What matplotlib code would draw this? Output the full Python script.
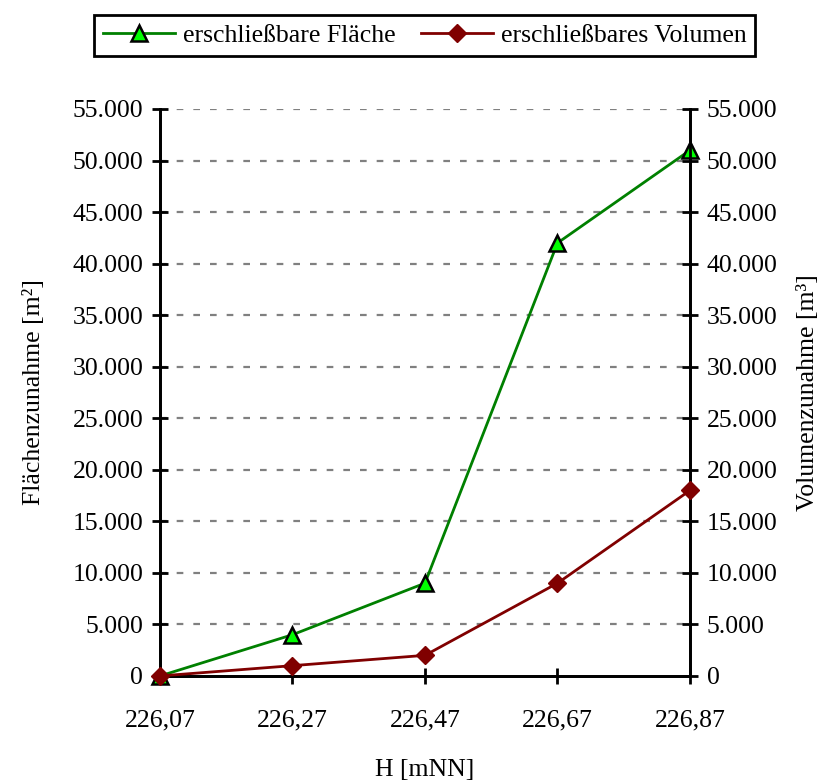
import matplotlib
matplotlib.use('Agg')
import matplotlib.pyplot as plt
from matplotlib.ticker import FuncFormatter

plt.rcParams['font.family'] = ['Liberation Serif', 'DejaVu Serif']

hoehen = ['226,07', '226,27', '226,47', '226,67', '226,87']
flaeche = [0, 4000, 9000, 42000, 51000]
volumen = [0, 1000, 2000, 9000, 18000]

def de_fmt(v, pos):
    return f'{int(v):,}'.replace(',', '.')

fs = 18.5

fig = plt.figure(figsize=(8.31, 7.83), dpi=100)
ax = fig.add_axes([0.1925, 0.1367, 0.6378, 0.7241])
ax2 = ax.twinx()

x = list(range(len(hoehen)))
l1, = ax.plot(x, flaeche, color='#008000', lw=2, marker='^', ms=11,
              mfc='#00ff00', mec='black', mew=1.8, zorder=5,
              label='erschließbare Fläche', clip_on=False)
l2, = ax2.plot(x, volumen, color='#800000', lw=2, marker='D', ms=9,
               mfc='#800000', mec='#800000', zorder=5,
               label='erschließbares Volumen', clip_on=False)

yt = list(range(0, 55001, 5000))
for a in (ax, ax2):
    a.set_ylim(0, 55000)
    a.set_yticks(yt)
    a.yaxis.set_major_formatter(FuncFormatter(de_fmt))
    a.spines['top'].set_visible(False)
    for s in a.spines.values():
        s.set_linewidth(2)
    a.tick_params(axis='y', direction='inout', length=12, width=2, labelsize=fs, pad=6)

ax.set_xlim(0, 4)
ax.set_xticks(x)
ax.set_xticklabels(hoehen)
ax.tick_params(axis='x', direction='inout', length=12, width=2, labelsize=fs, pad=18)

for v in yt[1:]:
    ax.axhline(v, color='#808080', ls=(0, (3, 4.5)), lw=1.6, zorder=0)

ax.set_ylabel('Flächenzunahme [m²]', fontsize=fs, labelpad=20)
ax2.set_ylabel('Volumenzunahme [m³]', fontsize=fs, labelpad=14)
ax.set_xlabel('H [mNN]', fontsize=fs, labelpad=20)

leg = fig.legend(handles=[l1, l2], loc='upper center', bbox_to_anchor=(0.511, 0.997),
                 ncol=2, fontsize=fs, frameon=True, fancybox=False, framealpha=1,
                 edgecolor='black', handlelength=2.8, columnspacing=1.0,
                 handletextpad=0.3, borderpad=0.35)
leg.get_frame().set_linewidth(2)

fig.savefig('out.png', dpi=100)
